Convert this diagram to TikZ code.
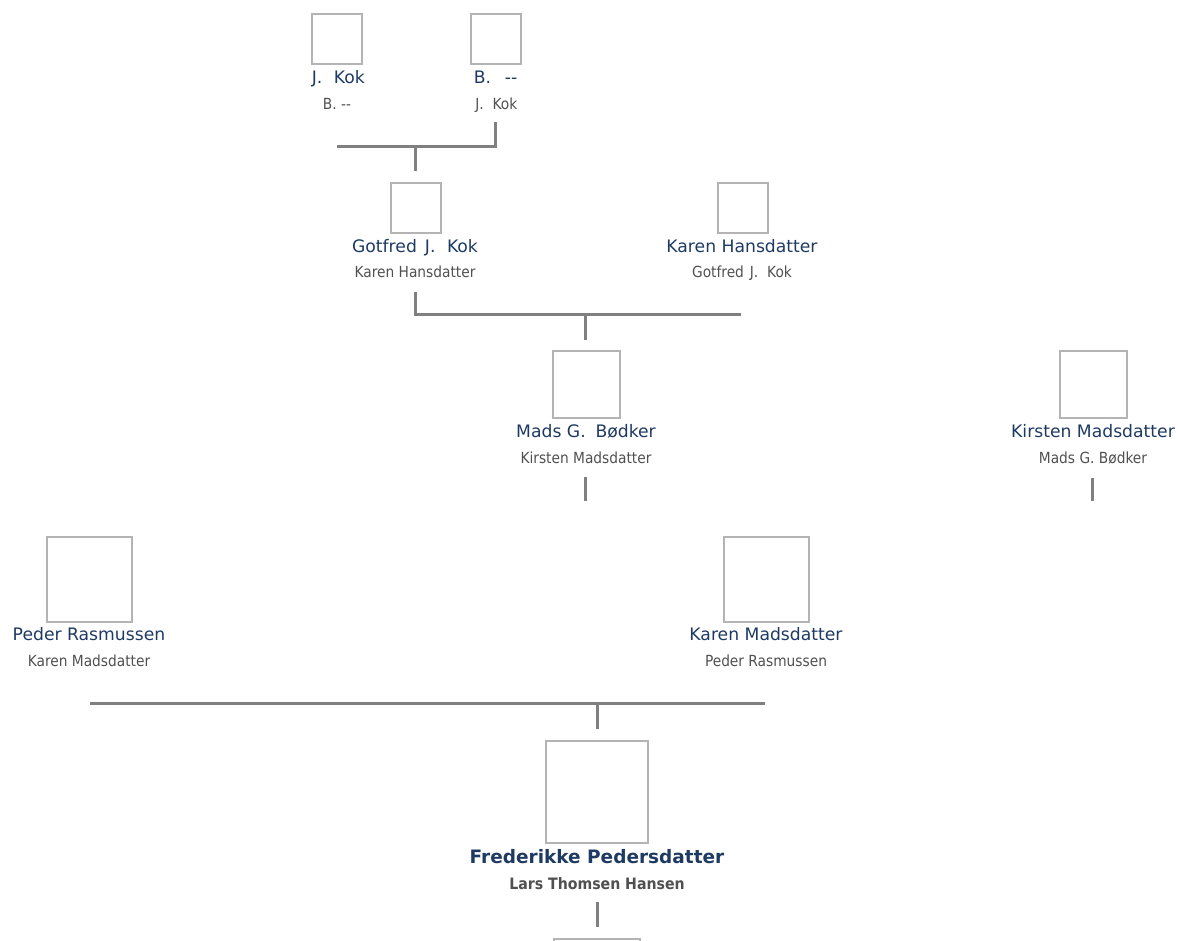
\documentclass[tikz,border=0pt]{standalone}
\usepackage{fontspec}
\setmainfont{DejaVu Sans}
\newfontfamily\subfont{DejaVu Sans Condensed}
\definecolor{namec}{HTML}{1E3A62}
\definecolor{subc}{HTML}{505050}
\definecolor{linec}{HTML}{808080}
\definecolor{boxc}{HTML}{B4B4B4}
\newcommand{\nameJ}{\hspace{0.15em}J.\hspace{0.35em} }
\newcommand{\subJ}{\hspace{0.1em}J.\hspace{0.3em} }
\tikzset{
  photo/.style={draw=boxc, line width=2pt, fill=white, inner sep=0pt, outer sep=0pt},
  pname/.style={anchor=base, text=namec, font=\fontsize{17.2}{19}\selectfont, inner sep=0pt},
  psub/.style={anchor=base, text=subc, font=\subfont\fontsize{15.3}{17}\selectfont, inner sep=0pt},
  bname/.style={anchor=base, text=namec, font=\bfseries\fontsize{18.5}{20}\selectfont, inner sep=0pt},
  bsub/.style={anchor=base, text=subc, font=\bfseries\subfont\fontsize{15.7}{17}\selectfont, inner sep=0pt},
  link/.style={draw=linec, line width=3pt}
}
\begin{document}
\begin{tikzpicture}[x=1pt,y=-1pt]
\useasboundingbox (0,0) rectangle (1178,940);
% generation 1
\node[photo, minimum size=50pt] (b1) at (337,38.5) {};
\node[pname] (n1) at (337,83) {\nameJ Kok};
\node[psub] (s1) at (337,109) {B. -{}-};
\node[photo, minimum size=50pt] (b2) at (495.5,38.5) {};
\node[pname] (n2) at (495.5,83) {B.\hspace{0.8em}-{}-};
\node[psub] (s2) at (495.5,109) {\subJ Kok};
\coordinate (c1a) at (495,122);
\coordinate (c1b) at (495,146);
\coordinate (c1l) at (337,146);
\coordinate (c1m) at (415,146);
\coordinate (c1d) at (415,171);
\draw[link] (c1a) -- (c1b) -- (c1l);
\draw[link] (c1m) -- (c1d);
% generation 2
\node[photo, minimum size=50pt] (b3) at (415.5,207.5) {};
\node[pname] (n3) at (415,252) {Gotfred \nameJ Kok};
\node[psub] (s3) at (415,277) {Karen Hansdatter};
\node[photo, minimum size=50pt] (b4) at (742.5,207.5) {};
\node[pname] (n4) at (742,252) {Karen Hansdatter};
\node[psub] (s4) at (742,277) {Gotfred \subJ Kok};
\coordinate (c2a) at (415,292);
\coordinate (c2b) at (415,314);
\coordinate (c2r) at (741,314);
\coordinate (c2m) at (585,314);
\coordinate (c2d) at (585,340);
\draw[link] (c2a) -- (c2b) -- (c2r);
\draw[link] (c2m) -- (c2d);
% generation 3
\node[photo, minimum size=67pt] (b5) at (586,384.5) {};
\node[pname] (n5) at (586,437) {Mads G.\hspace{0.25em} Bødker};
\node[psub] (s5) at (586,463) {Kirsten Madsdatter};
\node[photo, minimum size=67pt] (b6) at (1093,384.5) {};
\node[pname] (n6) at (1093,437) {Kirsten Madsdatter};
\node[psub] (s6) at (1093,463) {Mads G. Bødker};
\coordinate (c3a) at (585,477);
\coordinate (c3b) at (585,501);
\coordinate (c3c) at (1092,478);
\coordinate (c3d) at (1092,501);
\draw[link] (c3a) -- (c3b);
\draw[link] (c3c) -- (c3d);
% generation 4
\node[photo, minimum size=85pt] (b7) at (89,579.5) {};
\node[pname] (n7) at (89,640) {Peder Rasmussen};
\node[psub] (s7) at (89,666) {Karen Madsdatter};
\node[photo, minimum size=85pt] (b8) at (766,579.5) {};
\node[pname] (n8) at (766,640) {Karen Madsdatter};
\node[psub] (s8) at (766,666) {Peder Rasmussen};
\coordinate (c4l) at (90,703);
\coordinate (c4r) at (765,703);
\coordinate (c4m) at (597,703);
\coordinate (c4d) at (597,729);
\draw[link] (c4l) -- (c4r);
\draw[link] (c4m) -- (c4d);
% generation 5
\node[photo, minimum size=102pt] (b9) at (596.5,791.5) {};
\node[bname] (n9) at (597,863) {Frederikke Pedersdatter};
\node[bsub] (s9) at (597,889) {Lars Thomsen Hansen};
\coordinate (c5a) at (597,902);
\coordinate (c5b) at (597,927);
\draw[link] (c5a) -- (c5b);
\node[photo, minimum width=86pt, minimum height=40pt, anchor=north] (b10) at (596.5,938.5) {};
\end{tikzpicture}
\end{document}
